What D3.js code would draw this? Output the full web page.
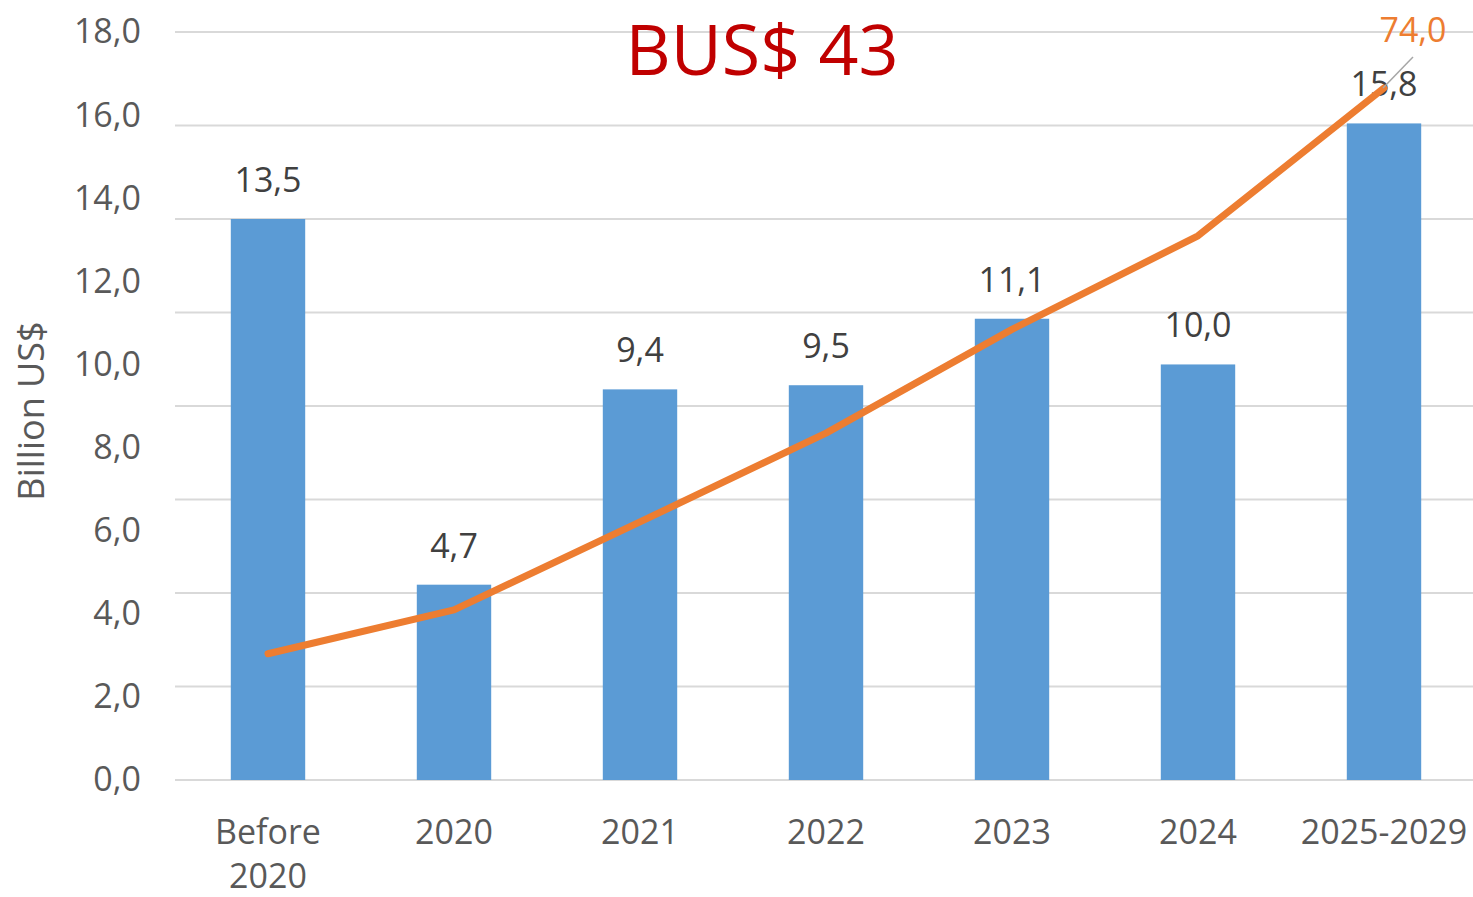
<!DOCTYPE html>
<html>
<head>
<meta charset="utf-8">
<script src="https://cdn.jsdelivr.net/npm/d3@7"></script>
<style>
  body { margin: 0; background: #fff; }
  svg text { font-family: "Open Sans", "Noto Sans", sans-serif; }
</style>
</head>
<body>
<svg id="chart"></svg>
<script>
const categories = ["Before 2020", "2020", "2021", "2022", "2023", "2024", "2025-2029"];
const barValues = [13.5, 4.7, 9.4, 9.5, 11.1, 10.0, 15.8];
const cumulative = [13.5, 18.2, 27.6, 37.1, 48.2, 58.2, 74.0];
const leftTicks = [0, 2, 4, 6, 8, 10, 12, 14, 16, 18];
const rightTicks = [0, 10, 20, 30, 40, 50, 60, 70, 80];
const title = "BUS$ 43";

const width = 1473, height = 897;
const margin = { top: 32, right: -4, bottom: 117, left: 175 };
const fontSize = 34;

const svg = d3.select("#chart").attr("width", width).attr("height", height);

const fmt = v => v.toFixed(1).replace(".", ",");

const x = d3.scaleBand()
  .domain(categories)
  .range([margin.left, width - margin.right])
  .paddingInner(0.6)
  .paddingOuter(0.3);

const y = d3.scaleLinear().domain([0, 18]).range([height - margin.bottom, margin.top]);
const y2 = d3.scaleLinear().domain([0, 80]).range([height - margin.bottom, margin.top]);

// gridlines (secondary axis ticks)
svg.append("g")
  .selectAll("line")
  .data(rightTicks)
  .join("line")
  .attr("x1", margin.left)
  .attr("x2", width)
  .attr("y1", d => y2(d))
  .attr("y2", d => y2(d))
  .attr("stroke", "#d9d9d9")
  .attr("stroke-width", 2);

// left axis labels
svg.append("g")
  .attr("transform", `translate(${margin.left - 34},0)`)
  .call(d3.axisLeft(y).tickValues(leftTicks).tickSize(0).tickPadding(0).tickFormat(fmt))
  .call(g => g.select(".domain").remove())
  .selectAll("text")
  .attr("fill", "#595959")
  .style("font-size", fontSize + "px");

// axis title
svg.append("text")
  .attr("transform", `translate(44,${(y(0) + y(18)) / 2 + 5}) rotate(-90)`)
  .attr("text-anchor", "middle")
  .attr("fill", "#595959")
  .style("font-size", "36px")
  .text("Billion US$");

// bars
svg.append("g")
  .selectAll("rect")
  .data(barValues)
  .join("rect")
  .attr("x", (d, i) => x(categories[i]))
  .attr("y", d => y(d))
  .attr("width", x.bandwidth())
  .attr("height", d => y(0) - y(d))
  .attr("fill", "#5b9bd5");

// bar labels
svg.append("g")
  .selectAll("text")
  .data(barValues)
  .join("text")
  .attr("x", (d, i) => x(categories[i]) + x.bandwidth() / 2)
  .attr("y", d => y(d) - 27)
  .attr("text-anchor", "middle")
  .attr("fill", "#404040")
  .style("font-size", fontSize + "px")
  .text(fmt);

// category labels
const xAxis = svg.append("g")
  .selectAll("text")
  .data(categories)
  .join("text")
  .attr("x", d => x(d) + x.bandwidth() / 2)
  .attr("y", y(0) + 64)
  .attr("text-anchor", "middle")
  .attr("fill", "#595959")
  .style("font-size", fontSize + "px");
xAxis.each(function (d) {
  const t = d3.select(this);
  const parts = d === "Before 2020" ? ["Before", "2020"] : [d];
  parts.forEach((p, i) => {
    t.append("tspan")
      .attr("x", x(d) + x.bandwidth() / 2)
      .attr("dy", i === 0 ? 0 : 44)
      .text(p);
  });
});

// cumulative line
const line = d3.line()
  .x((d, i) => x(categories[i]) + x.bandwidth() / 2)
  .y(d => y2(d));

svg.append("path")
  .datum(cumulative)
  .attr("d", line)
  .attr("fill", "none")
  .attr("stroke", "#ed7d31")
  .attr("stroke-width", 7)
  .attr("stroke-linejoin", "round")
  .attr("stroke-linecap", "round");

// label for last cumulative point with leader line
const lastI = cumulative.length - 1;
const lx = x(categories[lastI]) + x.bandwidth() / 2;
const ly = y2(cumulative[lastI]);
svg.append("line")
  .attr("x1", lx - 1)
  .attr("y1", ly)
  .attr("x2", lx + 29)
  .attr("y2", ly - 31)
  .attr("stroke", "#a6a6a6")
  .attr("stroke-width", 1.5);
svg.append("text")
  .attr("x", lx + 29)
  .attr("y", ly - 46)
  .attr("text-anchor", "middle")
  .attr("fill", "#ed7d31")
  .style("font-size", fontSize + "px")
  .text(fmt(cumulative[lastI]));

// title
svg.append("text")
  .attr("x", 762)
  .attr("y", 75)
  .attr("text-anchor", "middle")
  .attr("fill", "#c00000")
  .style("font-size", "70px")
  .text(title);
</script>
</body>
</html>
